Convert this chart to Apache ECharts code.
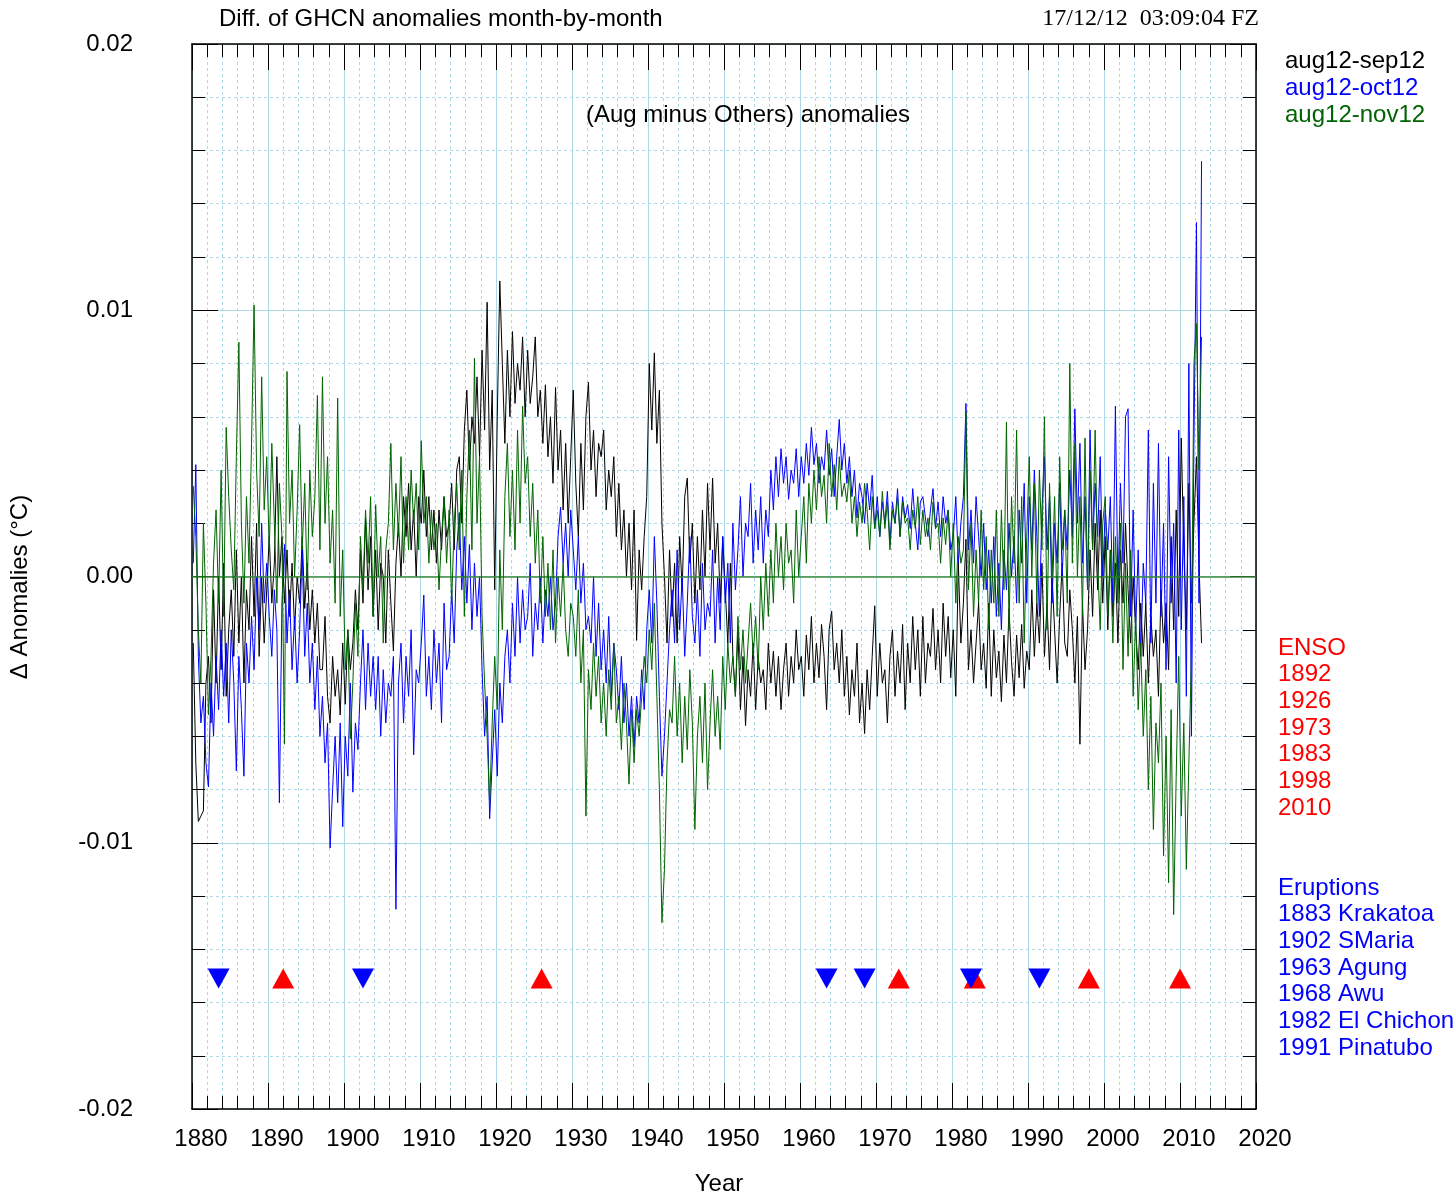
<!DOCTYPE html>
<html>
<head>
<meta charset="utf-8">
<title>Diff. of GHCN anomalies month-by-month</title>
<script src="https://cdn.jsdelivr.net/npm/echarts@6/dist/echarts.min.js"></script>
<style>
html, body { margin: 0; padding: 0; background: #fff; }
#chart { width: 1456px; height: 1198px; }
</style>
</head>
<body>
<div id="chart"></div>
<script>
// 3 samples per year from 1880, values in units of 0.0001 °C
var startYear = 1880;
var perYear = 3;
var unit = 0.0001;

// aug12-sep12 (black)
var sep12 = [
  // 1880
  -25,-70,-92, -90,-88,-40, -30,-55,-5, -40,0,-35, 5,-45,-20, -5,-30,10, -25,0,-40, -5,-20,15, -15,20,-30, 0,-25,-5,
  // 1890
  15,-10,5, 45,0,15, -10,10,-15, 5,-20,0, -10,15,-12, 5,-20,-5, -25,-10,-35, -35,-15,-45, -55,-30,-45, -35,-52,-25,
  // 1900
  -48,-20,-35, -25,-5,-20, 10,-10,22, -5,15,-15, 10,-20,5, 0,-25,10, -10,-28,5, 20,0,30, 15,35,10, 25,0,30,
  // 1910
  20,40,15, 30,10,25, 5,25,10, 30,15,20, 35,10,40, 45,20,55, 70,40,60, 50,75,45, 85,55,103, 40,70,-5,
  // 1920
  60,111,80, 50,85,60, 92,65,80, 70,90,60, 85,65,75, 90,60,70, 50,72,45, 60,35,71, 40,55,25, 50,20,45,
  // 1930
  70,35,15, 50,25,60, 73,40,55, 30,50,45, 55,25,40, 30,45,15, 35,10,25, 0,20,-5, 25,-24,10, -5,15,30,
  // 1940
  80,55,84, 50,70,20, 0,-25,10, -15,5,-25, 15,-5,30, 37,5,20, -10,15,-5, 25,0,35, 10,37,5, 20,-10,15,
  // 1950
  -5,-25,5, -30,-45,-20, -50,-30,-56, -35,-45,-25, -50,-30,-40, -35,-50,-25, -40,-28,-45, -30,-50,-35, -25,-45,-30, -40,-20,-35,
  // 1960
  -30,-45,-22, -35,-15,-40, -25,-38,-18, -30,-50,-20, -13,-35,-25, -40,-20,-45, -30,-52,-35, -45,-25,-55, -40,-59,-35, -50,-30,-11,
  // 1970
  -45,-25,-40, -35,-55,-30, -20,-45,-28, -40,-18,-50, -25,-40,-15, -35,-20,-45, -15,-40,-25, -30,-12,-35, -20,-40,-10, -30,-15,-38,
  // 1980
  -20,-45,5, -25,-10,14, -35,-20,-40, -25,-10,-35, -25,-42,-10, -45,-20,-38, -28,-47,-22, -40,-12,-32, -45,-22,-38, -18,-42,-28,
  // 1990
  -35,-5,-30, -10,-25,5, -30,-10,-35, 0,-20,-40, -15,5,-25, -30,-5,-20, -40,-15,-63, -10,-35,-20, 10,-15,20, -5,25,-10,
  // 2000
  15,-20,10, -15,5,-25, 10,-10,20, -5,-25,0, -20,-35,-10, -30,-10,-40, -15,-30,-20, -45,-5,-25, -10,-35,15, -20,25,-15,
  // 2010
  52,10,-20, 35,-10,20, 45,5,-25
];

// aug12-oct12 (blue)
var oct12 = [
  // 1880
  5,42,-30, -55,-45,-70, -79,-40,-60, -30,-50,-20, -45,-25,-55, -20,-40,-73, -30,-50,-75, -25,-40,-15, -35,0,-20, 20,-10,5,
  // 1890
  -15,-30,-5, -20,-85,-10, 12,-25,-5, -35,-15,-40, -20,10,-30, -10,-40,-25, -50,-30,-60, -45,-70,-55, -102,-80,-60, -85,-55,-94,
  // 1900
  -60,-75,-40, -81,-55,-65, -40,-20,-50, -25,-45,-30, -50,-30,-60, -35,-55,-40, -45,-30,-125, -40,-25,-55, -30,-45,-20, -67,-35,-40,
  // 1910
  -25,-7,-45, -30,-50,-20, -40,-25,-55, -10,-35,-30, -5,-25,10, 24,-5,15, -10,12,-20, 5,-15,0, -35,-60,-45, -91,-70,-50,
  // 1920
  -75,-40,-55, -30,-20,-40, -10,-30,0, -25,-5,-20, -15,5,-30, -10,-20,0, -25,-5,-15, 0,-20,-10, 15,26,5, 20,0,25,
  // 1930
  10,-5,15, -10,5,-20, -15,-25,0, -30,-10,-35, -20,-40,-15, -45,-25,-35, -50,-30,-55, -40,-60,-45, -64,-45,-55, -35,-50,-20,
  // 1940
  -5,-25,15, -10,-45,-75, -60,-40,-20, -5,-25,10, -20,0,-30, -10,15,-15, -25,-5,-30, 5,-20,-10, -15,10,-25, 0,-20,15,
  // 1950
  -10,5,-25, 20,-5,10, 30,0,20, 15,35,5, 25,10,30, 5,25,15, 40,25,45, 30,48,35, 45,29,40, 35,48,30,
  // 1960
  45,35,50, 38,56,42, 50,35,45, 40,55,38, 48,30,45, 59,40,50, 35,45,30, 40,22,35, 30,20,35, 25,38,18,
  // 1970
  30,15,28, 20,32,12, 28,20,33, 15,30,22, 27,18,33, 20,10,28, 30,22,15, 25,33,18, 28,15,30, 20,25,10,
  // 1980
  15,30,5, 20,30,65, 10,25,5, 30,15,0, 20,-5,10, -10,15,-15, 5,-20,10, -5,20,0, 15,-10,25, 5,35,-10,
  // 1990
  30,10,40, 15,-15,25, 45,10,30, -10,20,5, 35,0,25, 10,40,15, 63,20,50, 5,30,-5, 55,10,35, 15,45,0,
  // 2000
  25,10,30, -10,64,-5, 35,5,60, 63,-15,25, -20,10,-30, 5,-10,55, -25,35,-10, 50,-15,20, -35,45,-10, 20,-40,55,
  // 2010
  -20,30,-45, 80,-60,50, 133,-10,156
];

// aug12-nov12 (green)
var nov12 = [
  // 1880
  34,15,-20, -40,20,-10, -52,-30,5, 25,-10,40, -15,56,30, 10,-5,45, 88,20,-10, 30,5,50, 102,40,15, 75,25,45,
  // 1890
  10,50,20, -10,35,15, -63,77,20, 40,0,25, 57,10,35, -5,40,15, 30,68,10, 75,20,45, 5,25,-10, 67,-15,10,
  // 1900
  -35,-20,-61, -40,-10,-30, 15,-5,25, 5,30,-15, 27,0,15, -25,10,20, 50,10,35, 15,45,5, 30,10,40, 20,35,10,
  // 1910
  51,20,30, 5,25,10, 20,-5,15, 30,5,25, -10,20,35, 10,40,-15, 30,55,10, 82,20,45, -15,-40,-60, -86,-55,-30,
  // 1920
  -50,10,-20, 30,50,15, 40,10,55, 20,64,35, 45,15,35, 5,25,-10, 15,-15,5, -20,10,-25, 0,-15,5, -20,-30,-10,
  // 1930
  -15,-30,-5, -40,-20,-90, -35,-50,-25, -45,-30,-55, -40,-60,-35, -50,-25,-55, -45,-65,-40, -55,-78,-50, -70,-50,-60, -45,-30,-40,
  // 1940
  -20,-35,-10, -45,-80,-130, -110,-70,-50, -55,-30,-60, -40,-70,-45, -65,-35,-55, -95,-60,-45, -70,-40,-80, -55,-35,-60, -45,-65,-30,
  // 1950
  -50,-25,-40, -30,-45,-15, -35,-20,-40, -25,-10,-30, -15,-35,0, -20,5,-15, 10,-10,20, 0,15,-5, 20,5,10, -10,25,0,
  // 1960
  15,30,5, 35,20,40, 25,45,30, 38,20,50, 30,42,25, 45,30,35, 28,40,20, 30,15,28, 20,35,25, 10,30,18,
  // 1970
  25,15,32, 18,28,10, 25,20,30, 15,28,20, 22,10,25, 18,30,12, 25,15,22, 10,28,18, 20,5,22, 12,25,0,
  // 1980
  20,-10,15, 5,10,62, -5,20,-15, 10,-10,25, -5,15,-20, 10,-10,25, -15,25,-5, 58,-20,30, 5,55,-10, 30,-25,15,
  // 1990
  45,0,35, -10,40,10, 60,-20,35, 0,30,-15, 45,10,25, -10,80,5, 50,0,30, -15,52,-5, 40,10,55, 5,-20,20,
  // 2000
  30,-15,10, -25,15,-10, 20,-35,5, -30,10,-45, -15,-50,-25, -60,-35,-80, -45,-95,-55, -70,-40,-105, -60,-115,-50, -127,-75,-30,
  // 2010
  -90,-55,-110, -70,-30,80, 95,40,90
];

var seriesNames = ['aug12-sep12', 'aug12-oct12', 'aug12-nov12'];
var seriesColors = ['#000000', '#0000ff', '#006400'];

var ensoYears = [1892, 1926, 1973, 1983, 1998, 2010];
var eruptionYears = [1883, 1902, 1963, 1968, 1982, 1991];
var eruptionNames = ['Krakatoa', 'SMaria', 'Agung', 'Awu', 'El Chichon', 'Pinatubo'];
var markerLevel = -0.0151;

var FONT = '"Liberation Sans", Arial, Helvetica, sans-serif';
var GRID_BLUE = '#add8e6';

function toPoints(arr) {
    return arr.map(function (v, i) {
        return [startYear + (i + 0.5) / perYear, v * unit];
    });
}

function textEl(x, y, str, color, align, font) {
    return {
        type: 'text', x: x, y: y, z: 100, silent: true,
        style: {
            text: str, fill: color, font: font || ('24px ' + FONT),
            align: align || 'left', verticalAlign: 'middle',
            textAlign: align || 'left', textVerticalAlign: 'middle'
        }
    };
}

var chart = echarts.init(document.getElementById('chart'));

var frameAxis = {
    axisLine: { show: true, onZero: false, lineStyle: { color: '#000', width: 1.5 } },
    axisTick: { show: true, inside: true, length: 26, lineStyle: { color: '#000', width: 1 } },
    minorTick: { show: true, splitNumber: 5, length: 13, lineStyle: { color: '#000', width: 1 } }
};

function axisCopy(extra) {
    var o = JSON.parse(JSON.stringify(frameAxis));
    for (var k in extra) o[k] = extra[k];
    return o;
}

var graphics = [];
graphics.push(textEl(219, 19, 'Diff. of GHCN anomalies month-by-month', '#000'));
graphics.push(textEl(1259, 19, '17/12/12  03:09:04 FZ', '#000', 'right', '24px "Liberation Serif", "Times New Roman", serif'));
graphics.push(textEl(748, 115, '(Aug minus Others) anomalies', '#000', 'center'));
graphics.push(textEl(719, 1184, 'Year', '#000', 'center'));
var yName = textEl(20, 587, 'Δ Anomalies (°C)', '#000', 'center');
yName.rotation = Math.PI / 2;
graphics.push(yName);
seriesNames.forEach(function (n, i) {
    graphics.push(textEl(1285, 61 + i * 27, n, seriesColors[i]));
});
graphics.push(textEl(1278, 648, 'ENSO', '#ff0000'));
ensoYears.forEach(function (y, i) {
    graphics.push(textEl(1278, 648 + (i + 1) * 26.7, String(y), '#ff0000'));
});
graphics.push(textEl(1278, 888, 'Eruptions', '#0000ff'));
eruptionYears.forEach(function (y, i) {
    graphics.push(textEl(1278, 888 + (i + 1) * 26.7, y + ' ' + eruptionNames[i], '#0000ff'));
});

var lineSeries = [sep12, oct12, nov12].map(function (arr, i) {
    var s = {
        name: seriesNames[i],
        type: 'line',
        data: toPoints(arr),
        showSymbol: false,
        symbol: 'none',
        lineStyle: { color: seriesColors[i], width: 1 },
        itemStyle: { color: seriesColors[i] },
        z: 3 + i
    };
    if (i === 2) {
        s.markLine = {
            silent: true, symbol: 'none', animation: false,
            label: { show: false },
            lineStyle: { color: '#3d8b3d', width: 1.5, type: 'solid' },
            data: [{ yAxis: 0 }]
        };
    }
    return s;
});

var option = {
    animation: false,
    backgroundColor: '#fff',
    textStyle: { fontFamily: FONT },
    grid: { left: 192, right: 200, top: 44, bottom: 89, containLabel: false },
    xAxis: [
        axisCopy({
            type: 'value', position: 'bottom', min: 1880, max: 2020, interval: 10,
            splitLine: { show: true, lineStyle: { color: GRID_BLUE, width: 1 } },
            minorSplitLine: { show: true, lineStyle: { color: GRID_BLUE, width: 1, type: [3, 3] } },
            axisLabel: {
                show: true, color: '#000', margin: 18,
                formatter: function (v) { return '{t|' + v + '}'; },
                rich: { t: { fontSize: 24, fontFamily: FONT, color: '#000', padding: [0, 0, 0, 18] } }
            }
        }),
        axisCopy({
            type: 'value', position: 'top', min: 1880, max: 2020, interval: 10,
            splitLine: { show: false }, minorSplitLine: { show: false },
            axisLabel: { show: false }
        })
    ],
    yAxis: [
        axisCopy({
            type: 'value', position: 'left', min: -0.02, max: 0.02, interval: 0.01,
            splitLine: { show: true, lineStyle: { color: GRID_BLUE, width: 1 } },
            minorSplitLine: { show: true, lineStyle: { color: GRID_BLUE, width: 1, type: [3, 3] } },
            axisLabel: {
                show: true, fontSize: 24, fontFamily: FONT, color: '#000', margin: 59,
                formatter: function (v) {
                    if (Math.abs(v) < 1e-9) return '0.00';
                    return v.toFixed(2);
                }
            }
        }),
        axisCopy({
            type: 'value', position: 'right', min: -0.02, max: 0.02, interval: 0.01,
            splitLine: { show: false }, minorSplitLine: { show: false },
            axisLabel: { show: false }
        })
    ],
    graphic: graphics,
    series: lineSeries.concat([
        {
            name: 'ENSO', type: 'scatter', symbol: 'triangle', symbolSize: [22, 20],
            itemStyle: { color: '#ff0000', opacity: 1 }, z: 10, silent: true,
            data: ensoYears.map(function (y) { return [y, markerLevel]; })
        },
        {
            name: 'Eruptions', type: 'scatter', symbol: 'triangle', symbolSize: [22, 20], symbolRotate: 180,
            itemStyle: { color: '#0000ff', opacity: 1 }, z: 11, silent: true,
            data: eruptionYears.map(function (y) { return [y + 0.5, markerLevel]; })
        }
    ])
};

chart.setOption(option);
</script>
</body>
</html>
